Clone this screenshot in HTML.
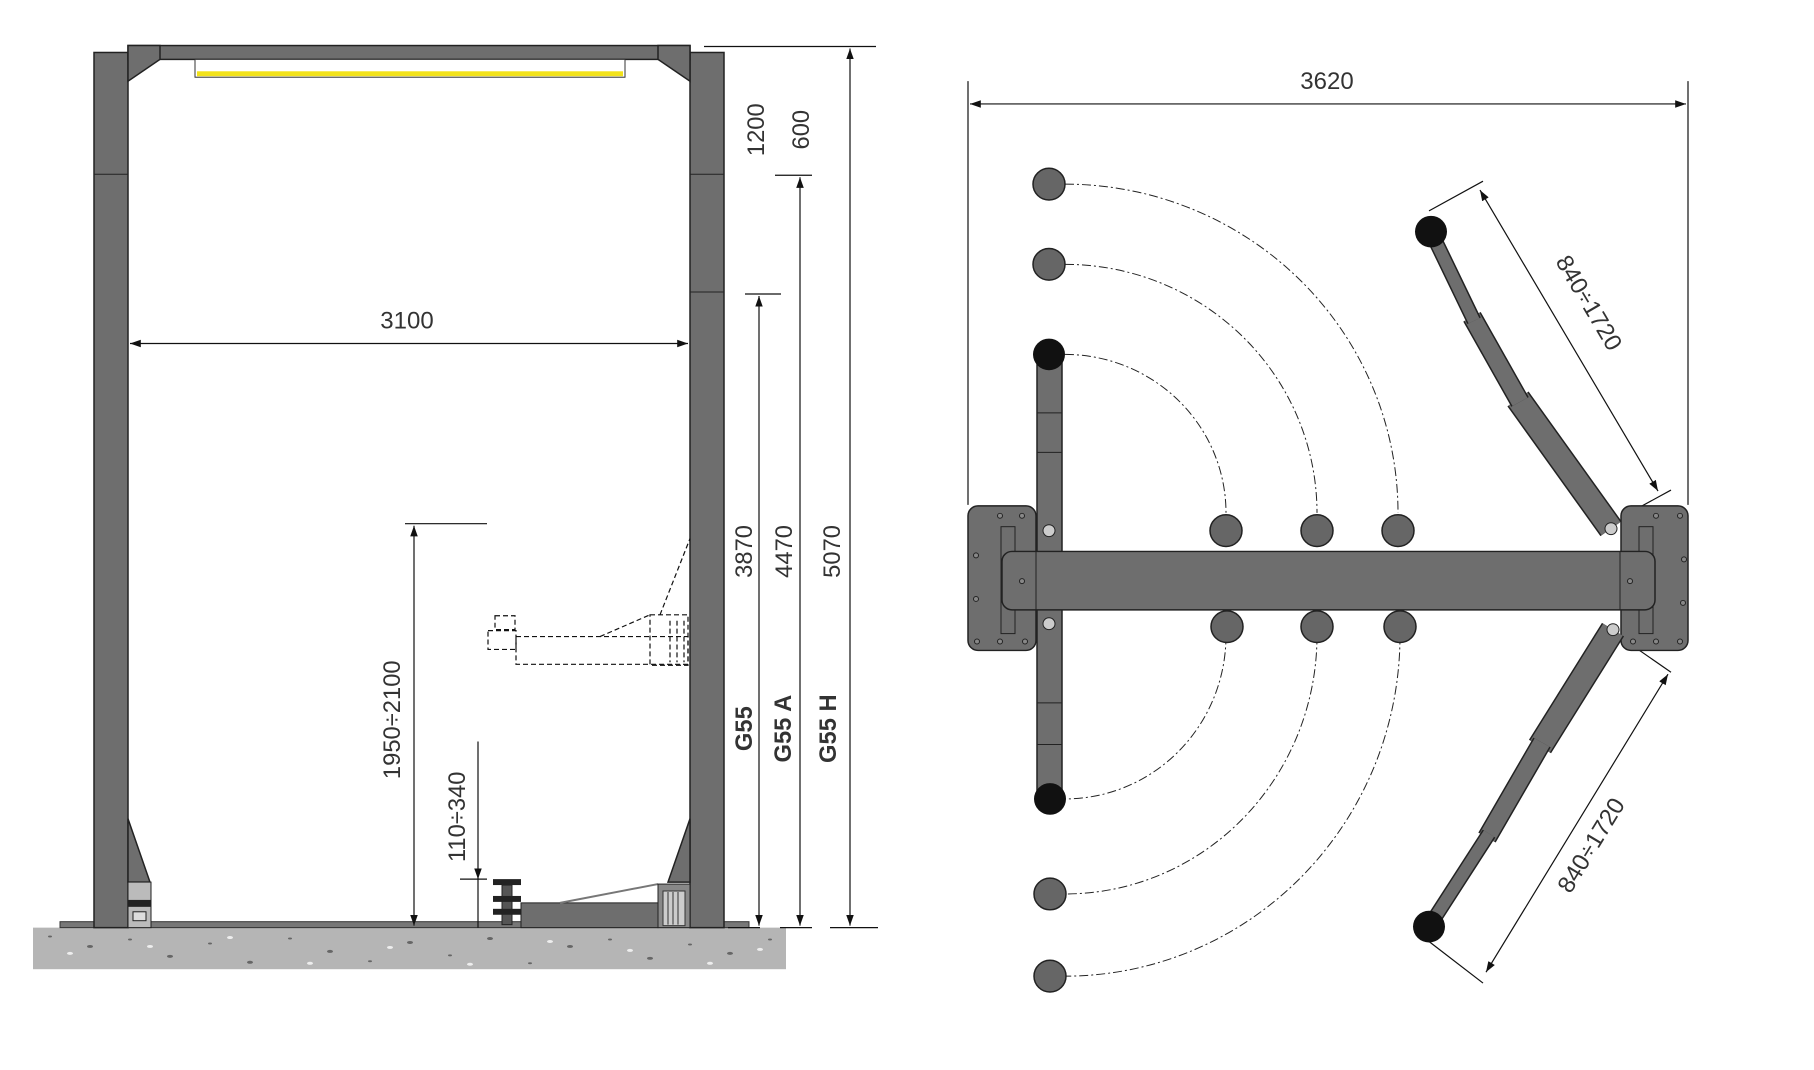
<!DOCTYPE html>
<html><head><meta charset="utf-8"><style>html,body{margin:0;padding:0;background:#fff}svg{display:block}text{font-family:"Liberation Sans",sans-serif;fill:#333}</style></head><body>
<svg width="1814" height="1070" viewBox="0 0 1814 1070" xmlns="http://www.w3.org/2000/svg">
<defs>
<marker id="a" viewBox="0 0 10 10" refX="10" refY="5" markerWidth="9" markerHeight="9" orient="auto-start-reverse"><path d="M0,1.5 L10,5 L0,8.5 z" fill="#111"/></marker>
</defs>
<g transform="scale(1,0.99)">
<!-- floor -->
<rect x="33" y="937" width="753" height="42" fill="#b5b5b5"/>
<g fill="#666">
<ellipse cx="50" cy="946" rx="2" ry="1"/><ellipse cx="90" cy="956" rx="3" ry="1.5"/><ellipse cx="130" cy="949" rx="2" ry="1"/><ellipse cx="170" cy="966" rx="3" ry="1.5"/><ellipse cx="210" cy="953" rx="2" ry="1"/><ellipse cx="250" cy="972" rx="3" ry="1.5"/><ellipse cx="290" cy="948" rx="2" ry="1"/><ellipse cx="330" cy="961" rx="3" ry="1.5"/><ellipse cx="370" cy="971" rx="2" ry="1"/><ellipse cx="410" cy="952" rx="3" ry="1.5"/><ellipse cx="450" cy="965" rx="2" ry="1"/><ellipse cx="490" cy="948" rx="3" ry="1.5"/><ellipse cx="530" cy="973" rx="2" ry="1"/><ellipse cx="570" cy="956" rx="3" ry="1.5"/><ellipse cx="610" cy="949" rx="2" ry="1"/><ellipse cx="650" cy="968" rx="3" ry="1.5"/><ellipse cx="690" cy="954" rx="2" ry="1"/><ellipse cx="730" cy="963" rx="3" ry="1.5"/><ellipse cx="770" cy="949" rx="2" ry="1"/>
</g>
<g fill="#eee">
<ellipse cx="70" cy="963" rx="3" ry="1.5"/><ellipse cx="150" cy="956" rx="3" ry="1.5"/><ellipse cx="230" cy="947" rx="3" ry="1.5"/><ellipse cx="310" cy="973" rx="3" ry="1.5"/><ellipse cx="390" cy="957" rx="3" ry="1.5"/><ellipse cx="470" cy="974" rx="3" ry="1.5"/><ellipse cx="550" cy="951" rx="3" ry="1.5"/><ellipse cx="630" cy="960" rx="3" ry="1.5"/><ellipse cx="710" cy="973" rx="3" ry="1.5"/><ellipse cx="760" cy="959" rx="3" ry="1.5"/>
</g>
<rect x="60" y="931" width="689" height="6" fill="#777" stroke="#333" stroke-width="1"/>
<!-- columns -->
<g fill="#6e6e6e" stroke="#222" stroke-width="1.5">
<rect x="94" y="53" width="34" height="884"/>
<rect x="690" y="53" width="34" height="884"/>
<rect x="128" y="46" width="562" height="14"/>
<path d="M128,46 L160,46 L160,60 L128,82 z"/>
<path d="M690,46 L658,46 L658,60 L690,82 z"/>
<path d="M128,827 L150,891 L128,891 z"/>
<path d="M690,827 L668,891 L690,891 z"/>
</g>
<line x1="94" y1="176" x2="128" y2="176" stroke="#222"/>
<line x1="690" y1="176" x2="724" y2="176" stroke="#222"/>
<line x1="690" y1="295" x2="724" y2="295" stroke="#222"/>
<rect x="195" y="60" width="430" height="18" fill="#fff" stroke="#333"/>
<rect x="197" y="72" width="426" height="5" fill="#f2e21a"/>
<!-- left bottom box -->
<rect x="128" y="891" width="23" height="46" fill="#bbb" stroke="#222"/>
<rect x="128" y="909" width="23" height="7" fill="#222"/>
<rect x="133" y="921" width="13" height="9" fill="#ddd" stroke="#222"/>
<!-- lower parts -->
<rect x="521" y="912" width="137" height="25" fill="#6e6e6e" stroke="#222"/>
<line x1="560" y1="912" x2="658" y2="893" stroke="#777" stroke-width="2"/>
<rect x="658" y="893" width="32" height="44" fill="#888" stroke="#222"/>
<rect x="663" y="900" width="22" height="35" fill="#ccc" stroke="#333"/>
<g stroke="#333"><line x1="668" y1="901" x2="668" y2="934"/><line x1="673" y1="901" x2="673" y2="934"/><line x1="678" y1="901" x2="678" y2="934"/></g>
<rect x="493" y="888" width="28" height="6" fill="#222"/>
<rect x="502" y="894" width="10" height="40" fill="#555" stroke="#222"/>
<rect x="493" y="905" width="28" height="6" fill="#222"/>
<rect x="493" y="918" width="28" height="6" fill="#222"/>
<!-- dashed arm -->
<g fill="none" stroke="#111" stroke-width="1.2" stroke-dasharray="5,3">
<rect x="516" y="643" width="172" height="28"/>
<rect x="650" y="621" width="38" height="51"/>
<line x1="600" y1="643" x2="650" y2="621"/>
<line x1="660" y1="621" x2="690" y2="544"/>
<rect x="495" y="622" width="20" height="14"/>
<rect x="488" y="637" width="28" height="19"/>
<line x1="670" y1="627" x2="670" y2="669"/><line x1="677" y1="627" x2="677" y2="669"/><line x1="684" y1="627" x2="684" y2="669"/>
</g>
<!-- dims left -->
<g stroke="#111" stroke-width="1.2" fill="none">
<line x1="130" y1="347" x2="688" y2="347" marker-start="url(#a)" marker-end="url(#a)"/>
<line x1="704" y1="47" x2="876" y2="47"/>
<line x1="850" y1="49" x2="850" y2="935" marker-start="url(#a)" marker-end="url(#a)"/>
<line x1="775" y1="177" x2="812" y2="177"/>
<line x1="800" y1="179" x2="800" y2="935" marker-start="url(#a)" marker-end="url(#a)"/>
<line x1="745" y1="297" x2="781" y2="297"/>
<line x1="759" y1="299" x2="759" y2="935" marker-start="url(#a)" marker-end="url(#a)"/>
<line x1="405" y1="529" x2="487" y2="529"/>
<line x1="414" y1="531" x2="414" y2="935" marker-start="url(#a)" marker-end="url(#a)"/>
<line x1="478" y1="749" x2="478" y2="888" marker-end="url(#a)"/>
<line x1="478" y1="888" x2="478" y2="937"/>
<line x1="460" y1="888" x2="487" y2="888"/>
<line x1="728" y1="937" x2="760" y2="937"/><line x1="780" y1="937" x2="812" y2="937"/><line x1="830" y1="937" x2="878" y2="937"/>
</g>
<text x="407" y="332" font-size="24" text-anchor="middle">3100</text>
<g font-size="24">
<text transform="translate(764,131) rotate(-90)" text-anchor="middle">1200</text>
<text transform="translate(809,131) rotate(-90)" text-anchor="middle">600</text>
<text transform="translate(752,557) rotate(-90)" text-anchor="middle">3870</text>
<text transform="translate(792,557) rotate(-90)" text-anchor="middle">4470</text>
<text transform="translate(840,557) rotate(-90)" text-anchor="middle">5070</text>
<text transform="translate(400,727) rotate(-90)" text-anchor="middle">1950÷2100</text>
<text transform="translate(465,825) rotate(-90)" text-anchor="middle">110÷340</text>
<text transform="translate(752,736) rotate(-90)" text-anchor="middle" font-weight="bold">G55</text>
<text transform="translate(791,736) rotate(-90)" text-anchor="middle" font-weight="bold">G55 A</text>
<text transform="translate(836,736) rotate(-90)" text-anchor="middle" font-weight="bold">G55 H</text>
</g>
<!-- RIGHT: top view -->
<g stroke="#111" stroke-width="1.2" fill="none">
<line x1="968" y1="82" x2="968" y2="510"/>
<line x1="1688" y1="82" x2="1688" y2="510"/>
<line x1="970" y1="105" x2="1686" y2="105" marker-start="url(#a)" marker-end="url(#a)"/>
<line x1="1429" y1="213" x2="1483" y2="183"/>
<line x1="1633" y1="516" x2="1671" y2="495"/>
<line x1="1480" y1="192" x2="1658" y2="496" marker-start="url(#a)" marker-end="url(#a)"/>
<line x1="1621" y1="644" x2="1671" y2="679"/>
<line x1="1429" y1="951" x2="1483" y2="993"/>
<line x1="1668" y1="681" x2="1486" y2="982" marker-start="url(#a)" marker-end="url(#a)"/>
</g>
<text x="1327" y="90" font-size="24" text-anchor="middle">3620</text>
<text transform="translate(1582,310) rotate(59.6)" font-size="24" text-anchor="middle">840÷1720</text>
<text transform="translate(1598,858) rotate(-58.8)" font-size="24" text-anchor="middle">840÷1720</text>
<!-- arcs -->
<g stroke="#222" stroke-width="1" fill="none" stroke-dasharray="9,3,2,3">
<path d="M1065,186 A333,332 0 0 1 1398,518"/>
<path d="M1065,267 A252,251 0 0 1 1317,518"/>
<path d="M1065,358 A161,160 0 0 1 1226,518"/>
<path d="M1226,642 A161,165 0 0 1 1065,807"/>
<path d="M1317,642 A252,261 0 0 1 1065,903"/>
<path d="M1400,642 A335,344 0 0 1 1065,986"/>
</g>
<!-- base plates -->
<g fill="#6e6e6e" stroke="#222" stroke-width="1.5">
<rect x="968" y="511" width="68" height="146" rx="10"/>
<rect x="1621" y="511" width="67" height="146" rx="10"/>
</g>
<g fill="none" stroke="#222"><rect x="1001" y="532" width="14" height="108"/><rect x="1639" y="532" width="14" height="108"/></g>
<g fill="#888" stroke="#222">
<circle cx="976" cy="561" r="2.5"/><circle cx="976" cy="605" r="2.5"/><circle cx="977" cy="648" r="2.5"/><circle cx="1000" cy="648" r="2.5"/><circle cx="1025" cy="648" r="2.5"/><circle cx="1000" cy="521" r="2.5"/><circle cx="1022" cy="521" r="2.5"/>
<circle cx="1684" cy="565" r="2.5"/><circle cx="1683" cy="609" r="2.5"/><circle cx="1680" cy="648" r="2.5"/><circle cx="1656" cy="648" r="2.5"/><circle cx="1633" cy="648" r="2.5"/><circle cx="1656" cy="521" r="2.5"/><circle cx="1680" cy="521" r="2.5"/>
</g>
<!-- left arm -->
<rect x="1037" y="358" width="25" height="449" fill="#6e6e6e" stroke="#222" stroke-width="1.5"/>
<g stroke="#222"><line x1="1037" y1="417" x2="1062" y2="417"/><line x1="1037" y1="457" x2="1062" y2="457"/><line x1="1037" y1="710" x2="1062" y2="710"/><line x1="1037" y1="752" x2="1062" y2="752"/></g>
<!-- beam -->
<rect x="1002" y="557" width="653" height="59" rx="10" fill="#6e6e6e" stroke="#222" stroke-width="1.5"/>
<line x1="1036" y1="557" x2="1036" y2="616" stroke="#222"/>
<line x1="1620" y1="557" x2="1620" y2="616" stroke="#222"/>
<circle cx="1022" cy="587" r="2.5" fill="#888" stroke="#222"/><circle cx="1630" cy="587" r="2.5" fill="#888" stroke="#222"/>
<circle cx="1049" cy="536" r="6" fill="#ccc" stroke="#222"/>
<circle cx="1049" cy="630" r="6" fill="#ccc" stroke="#222"/>
<!-- right arms -->
<g stroke-linecap="butt">
<line x1="1611" y1="534" x2="1518" y2="403" stroke="#222" stroke-width="26"/>
<line x1="1611" y1="534" x2="1518" y2="403" stroke="#6e6e6e" stroke-width="23"/>
<line x1="1520" y1="406" x2="1472" y2="320" stroke="#222" stroke-width="20"/>
<line x1="1520" y1="406" x2="1472" y2="320" stroke="#6e6e6e" stroke-width="17"/>
<line x1="1474" y1="324" x2="1431" y2="234" stroke="#222" stroke-width="15"/>
<line x1="1474" y1="324" x2="1431" y2="234" stroke="#6e6e6e" stroke-width="12"/>
<line x1="1613" y1="636" x2="1540" y2="754" stroke="#222" stroke-width="26"/>
<line x1="1613" y1="636" x2="1540" y2="754" stroke="#6e6e6e" stroke-width="23"/>
<line x1="1542" y1="750" x2="1487" y2="846" stroke="#222" stroke-width="20"/>
<line x1="1542" y1="750" x2="1487" y2="846" stroke="#6e6e6e" stroke-width="17"/>
<line x1="1489" y1="842" x2="1429" y2="936" stroke="#222" stroke-width="15"/>
<line x1="1489" y1="842" x2="1429" y2="936" stroke="#6e6e6e" stroke-width="12"/>
</g>
<circle cx="1611" cy="534" r="6" fill="#ccc" stroke="#222"/>
<circle cx="1613" cy="636" r="6" fill="#ccc" stroke="#222"/>
<!-- pads -->
<g fill="#111"><circle cx="1049" cy="358" r="16"/><circle cx="1050" cy="807" r="16"/><circle cx="1431" cy="234" r="16"/><circle cx="1429" cy="936" r="16"/></g>
<g fill="#666" stroke="#222" stroke-width="1.5">
<circle cx="1049" cy="186" r="16"/><circle cx="1049" cy="267" r="16"/><circle cx="1050" cy="903" r="16"/><circle cx="1050" cy="986" r="16"/>
<circle cx="1226" cy="536" r="16"/><circle cx="1317" cy="536" r="16"/><circle cx="1398" cy="536" r="16"/>
<circle cx="1227" cy="633" r="16"/><circle cx="1317" cy="633" r="16"/><circle cx="1400" cy="633" r="16"/>
</g>
</g>
</svg>
</body></html>
